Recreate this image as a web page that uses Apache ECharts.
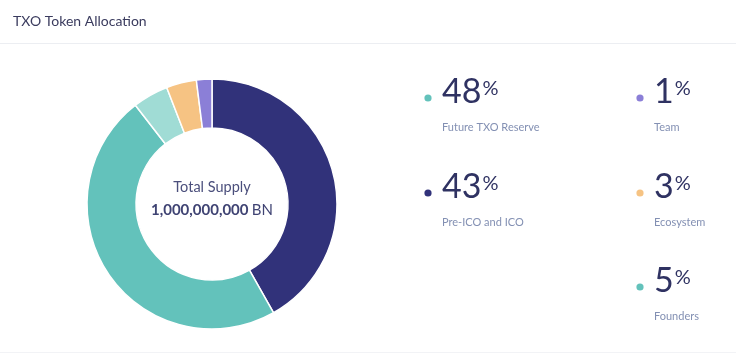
<!DOCTYPE html>
<html>
<head>
<meta charset="utf-8">
<script src="https://cdn.jsdelivr.net/npm/echarts@6/dist/echarts.min.js"></script>
<style>
html,body{margin:0;padding:0;background:#fff;}
#c{width:736px;height:357px;}
</style>
</head>
<body>
<div id="c"></div>
<script>
var title = 'TXO Token Allocation';
var categories = ['Pre-ICO and ICO', 'Future TXO Reserve', 'Founders', 'Ecosystem', 'Team'];
var sliceValues = [41.8, 47.7, 4.6, 3.9, 2.0];
var sliceColors = ['#31327a', '#63c2bb', '#a0dcd5', '#f6c383', '#8b7fd7'];
var legendNames = ['Future TXO Reserve', 'Pre-ICO and ICO', 'Team', 'Ecosystem', 'Founders'];
var legendPercents = ['48', '43', '1', '3', '5'];
var legendColors = ['#63c2bb', '#31327a', '#8b7fd7', '#f6c383', '#63c2bb'];
var centerLine1 = 'Total Supply';
var centerNumber = '1,000,000,000';
var centerUnit = 'BN';

var FONT = 'Lato, "Noto Sans", sans-serif';
var chart = echarts.init(document.getElementById('c'), null, {renderer: 'canvas'});

var slots = [[428, 98], [428, 193], [640, 98], [640, 193], [640, 287]];
var NUM_FONT = '34px ' + FONT;
var measure = document.createElement('canvas').getContext('2d');
measure.font = NUM_FONT;

var graphics = [
  {type: 'line', shape: {x1: 0, y1: 43.5, x2: 736, y2: 43.5}, style: {stroke: '#eceef2', lineWidth: 1}},
  {type: 'line', shape: {x1: 0, y1: 352.5, x2: 736, y2: 352.5}, style: {stroke: '#f2f3f6', lineWidth: 1}}
];
legendNames.forEach(function (n, i) {
  var x = slots[i][0], y = slots[i][1];
  var tx = x + 14;
  graphics.push({type: 'circle', shape: {cx: x, cy: y, r: 3.6}, style: {fill: legendColors[i]}});
  graphics.push({type: 'text', x: tx, y: y + 11, style: {
    text: legendPercents[i], font: NUM_FONT, fill: '#2f3262', textVerticalAlign: 'bottom'}});
  var tw = measure.measureText(legendPercents[i]).width;
  graphics.push({type: 'text', x: tx + tw + 1, y: y - 19, style: {
    text: '%', font: '20px ' + FONT, fill: '#2f3262', textVerticalAlign: 'top'}});
  graphics.push({type: 'text', x: tx, y: y + 29, style: {
    text: n, font: '11px ' + FONT, fill: '#8390b3', textVerticalAlign: 'middle'}});
});

graphics.push({type: 'text', x: 212, y: 187, style: {text: centerLine1, font: '14.5px ' + FONT, fill: '#4b4f7c', textAlign: 'center', textVerticalAlign: 'middle'}});
graphics.push({type: 'text', x: 212, y: 210, style: {
  text: '{b|' + centerNumber + '} {n|' + centerUnit + '}',
  fill: '#3f4373',
  textAlign: 'center', textVerticalAlign: 'middle',
  rich: {
    b: {fontFamily: FONT, fontSize: 15, fontWeight: 'bold', fill: '#3f4373', color: '#3f4373'},
    n: {fontFamily: FONT, fontSize: 15, fontWeight: 'normal', fill: '#3f4373', color: '#3f4373'}
  }
}});

var option = {
  backgroundColor: '#ffffff',
  animation: false,
  title: {
    text: title, left: 8, top: 9,
    textStyle: {fontFamily: FONT, fontSize: 14, fontWeight: 'normal', color: '#3a3b5e'}
  },
  series: [{
    type: 'pie',
    center: [212, 204],
    radius: [76, 125],
    startAngle: 90,
    clockwise: true,
    silent: true,
    label: {show: false},
    labelLine: {show: false},
    itemStyle: {borderColor: '#ffffff', borderWidth: 1.5},
    data: categories.map(function (c, i) {
      return {name: c, value: sliceValues[i], itemStyle: {color: sliceColors[i]}};
    })
  }],
  graphic: graphics
};
chart.setOption(option);
</script>
</body>
</html>
